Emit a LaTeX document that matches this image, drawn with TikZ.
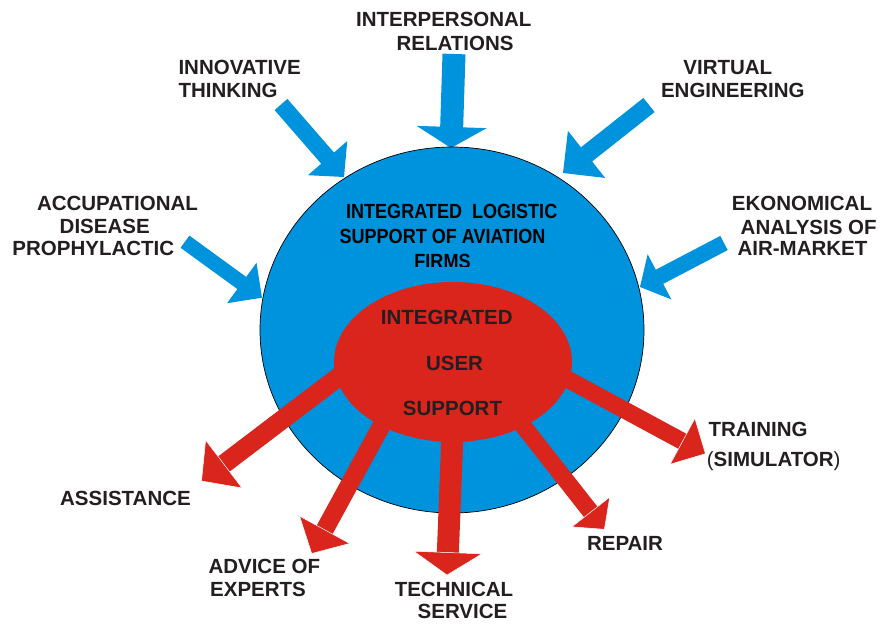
\documentclass[tikz,border=0pt]{standalone}
\usepackage{fontspec}
\setmainfont{Liberation Sans}
\newfontfamily\narrowfont{Liberation Sans}[FakeStretch=0.88]
\usetikzlibrary{calc,shapes.geometric}
\definecolor{bluec}{HTML}{0093DD}
\definecolor{redc}{HTML}{DA251D}
\definecolor{txtc}{HTML}{231F20}
\newcommand\bluearrow[5]{% tail, tip, half shaft, half head, head length
  \coordinate (hb) at ($(#2)!#5!(#1)$);
  \fill[bluefill] ($(#1)!#3!90:(#2)$) -- ($(hb)!#3!90:(#2)$) -- ($(hb)!#4!90:(#2)$) -- (#2)
    -- ($(hb)!#4!-90:(#2)$) -- ($(hb)!#3!-90:(#2)$) -- ($(#1)!#3!-90:(#2)$) -- cycle;
}
\newcommand\redarrow[5]{% tail, tip, half shaft, half head, head length
  \coordinate (hb) at ($(#2)!#5!(#1)$);
  \fill[redfill] ($(#1)!#3!90:(#2)$) -- ($(hb)!#3!90:(#2)$) -- ($(hb)!#3!-90:(#2)$) -- ($(#1)!#3!-90:(#2)$) -- cycle;
  \filldraw[redfill, draw=white, line width=0.5pt] ($(hb)!#4!90:(#2)$) -- (#2) -- ($(hb)!#4!-90:(#2)$) -- cycle;
}
\begin{document}
\begin{tikzpicture}[x=1pt,y=-1pt,
  bluefill/.style={fill=bluec},
  redfill/.style={fill=redc},
  lbl/.style={font=\fontsize{20.5}{24}\selectfont\bfseries, text=txtc, inner sep=0pt},
  inlbl/.style={font=\narrowfont\fontsize{20.5}{24}\selectfont\bfseries, text=black, inner sep=0pt}]
\useasboundingbox (0,0) rectangle (882,624);
\fill[white] (0,0) rectangle (882,624);

% ---- coordinates of the arrows
\coordinate (tInterp) at (454,54);     \coordinate (pInterp) at (451,148);
\coordinate (tInnov)  at (281,104.5);  \coordinate (pInnov)  at (344,177);
\coordinate (tVirt)   at (649,105);    \coordinate (pVirt)   at (563,173);
\coordinate (tEkon)   at (724,243);    \coordinate (pEkon)   at (640,287);
\coordinate (tAccu)   at (185,241.7);  \coordinate (pAccu)   at (262,297.7);

\coordinate (tAssist) at (345,372);    \coordinate (pAssist) at (201.5,481);
\coordinate (tAdvice) at (390,410);    \coordinate (pAdvice) at (311.7,553.5);
\coordinate (tTech)   at (453,420);    \coordinate (pTech)   at (447,575);
\coordinate (tRepair) at (510.5,409.8);\coordinate (pRepair) at (604.4,529.3);
\coordinate (tTrain)  at (550.5,370);  \coordinate (pTrain)  at (705.4,453.7);

% ---- blue input arrows
\bluearrow{tInterp}{pInterp}{11.5pt}{35pt}{21pt}
\bluearrow{tInnov}{pInnov}{8.5pt}{26pt}{25pt}
\bluearrow{tVirt}{pVirt}{9pt}{30pt}{30pt}
\bluearrow{tEkon}{pEkon}{8pt}{25.5pt}{22pt}
\bluearrow{tAccu}{pAccu}{7.5pt}{25pt}{25pt}

% ---- blue circle
\node[ellipse, fill=bluec, draw=black, line width=0.7pt, minimum width=384pt, minimum height=366pt, inner sep=0pt] (ils) at (452,330) {};

\node[inlbl, anchor=base] (ils1) at (451.7,218.5) {INTEGRATED\ \ LOGISTIC};
\node[inlbl, anchor=base] (ils2) at (442.5,243.3) {SUPPORT OF AVIATION};
\begin{scope}
  \clip (350,245) rectangle (550,266.5);
  \node[inlbl, anchor=base] (ils3) at (442.5,268) {FIRMS};
\end{scope}

% ---- red output arrows
\redarrow{tAssist}{pAssist}{9.5pt}{30pt}{28pt}
\redarrow{tAdvice}{pAdvice}{9pt}{28.5pt}{27pt}
\redarrow{tTech}{pTech}{11pt}{34pt}{22.5pt}
\redarrow{tRepair}{pRepair}{8.5pt}{24pt}{22pt}
\redarrow{tTrain}{pTrain}{8.5pt}{26pt}{26pt}

% ---- red ellipse
\node[ellipse, fill=redc, minimum width=238pt, minimum height=160pt, inner sep=0pt] (ius) at (453,362) {};
\node[lbl, anchor=base] (ius1) at (446.7,324) {INTEGRATED};
\node[lbl, anchor=base] (ius2) at (454.5,370) {USER};
\node[lbl, anchor=base] (ius3) at (452.5,415) {SUPPORT};

% ---- outer labels
\node[lbl, anchor=base] (interp1) at (443.8,26) {INTERPERSONAL};
\node[lbl, anchor=base] (interp2) at (455,50.7) {RELATIONS};
\node[lbl, anchor=base west] (innov1) at (178.3,74) {INNOVATIVE};
\node[lbl, anchor=base west] (innov2) at (178.3,97.3) {THINKING};
\node[lbl, anchor=base] (virt1) at (727.8,74) {VIRTUAL};
\node[lbl, anchor=base] (virt2) at (732.8,97.3) {ENGINEERING};
\node[lbl, anchor=base] (ekon1) at (802,210) {EKONOMICAL};
\node[lbl, anchor=base] (ekon2) at (808.7,234) {ANALYSIS OF};
\node[lbl, anchor=base] (ekon3) at (802.5,255) {AIR-MARKET};
\node[lbl, anchor=base] (accu1) at (117.5,210) {ACCUPATIONAL};
\node[lbl, anchor=base] (accu2) at (104.7,233.3) {DISEASE};
\node[lbl, anchor=base] (accu3) at (93.3,255) {PROPHYLACTIC};
\node[lbl, anchor=base] (assist) at (125.5,505.7) {ASSISTANCE};
\node[lbl, anchor=base west] (advice1) at (208.3,573.3) {ADVICE OF};
\node[lbl, anchor=base west] (advice2) at (210,596.7) {EXPERTS};
\node[lbl, anchor=base] (tech1) at (454,596.7) {TECHNICAL};
\node[lbl, anchor=base] (tech2) at (462.5,618.3) {SERVICE};
\node[lbl, anchor=base] (repair) at (625,550) {REPAIR};
\node[lbl, anchor=base west] (train1) at (708.3,436.7) {TRAINING};
\node[lbl, anchor=base west] (train2) at (706.7,466.7) {{\mdseries(}SIMULATOR{\mdseries)}};
\end{tikzpicture}
\end{document}
